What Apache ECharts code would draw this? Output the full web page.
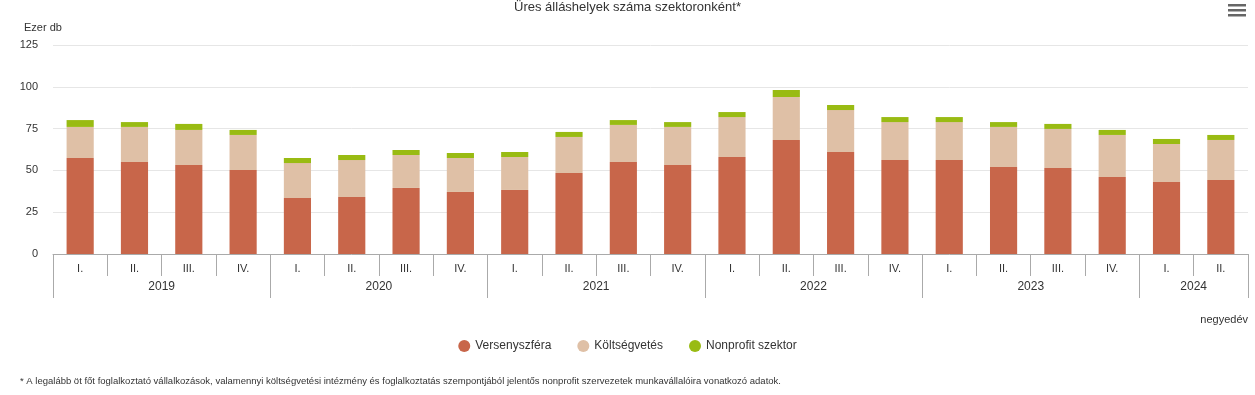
<!DOCTYPE html>
<html>
<head>
<meta charset="utf-8">
<script src="https://cdn.jsdelivr.net/npm/echarts@6/dist/echarts.min.js"></script>
<style>
html,body{margin:0;padding:0;background:#fff;}
#c{width:1255px;height:395px;}
</style>
</head>
<body>
<div id="c"></div>
<script>
const quarters = ['I.','II.','III.','IV.','I.','II.','III.','IV.','I.','II.','III.','IV.','I.','II.','III.','IV.','I.','II.','III.','IV.','I.','II.'];
const years = ['2019','2020','2021','2022','2023','2024'];
const quartersPerYear = [4,4,4,4,4,2];
const versenyszfera = [57.4, 55.0, 53.2, 50.2, 33.5, 34.1, 39.5, 37.1, 38.3, 48.4, 55.0, 53.2, 58.0, 68.2, 61.0, 56.2, 56.2, 52.0, 51.4, 46.1, 43.1, 44.3];
const koltsegvetes = [18.6, 21.0, 21.0, 21.0, 20.9, 22.1, 19.7, 20.3, 19.7, 21.6, 22.2, 22.8, 23.9, 25.7, 25.1, 22.7, 22.7, 24.0, 23.4, 25.1, 22.7, 23.9];
const nonprofit = [4.1, 2.9, 3.6, 3.0, 3.0, 3.0, 3.0, 3.0, 3.0, 3.0, 2.9, 2.9, 3.0, 4.2, 3.0, 3.0, 3.0, 2.9, 3.0, 3.0, 3.0, 3.0];
const yTicks = [0, 25, 50, 75, 100, 125];

// Build year axis (boundary points) from years / quartersPerYear
const yearPoints = new Array(quarters.length + 1).fill('');
const yearBoundaries = new Set([0]);
let acc = 0;
years.forEach((y, i) => {
  const n = quartersPerYear[i];
  const mid = acc + n / 2;
  yearPoints[Math.round(mid)] = y;
  acc += n;
  yearBoundaries.add(acc);
});

const FONT = '"Liberation Sans", Arial, sans-serif';
const AX = '#aaaaaa';
const chart = echarts.init(document.getElementById('c'), null, {renderer: 'canvas'});
chart.setOption({
  animation: false,
  textStyle: {fontFamily: FONT},
  title: [
    {text: 'Üres álláshelyek száma szektoronként*', left: 'center', top: 1, padding: 0,
     textStyle: {fontSize: 13, fontWeight: 'normal', color: '#333', fontFamily: FONT}},
    {text: 'Ezer db', left: 19, top: 17,
     textStyle: {fontSize: 11, fontWeight: 'normal', color: '#333', fontFamily: FONT}},
    {text: 'negyedév', right: 2, top: 309,
     textStyle: {fontSize: 11, fontWeight: 'normal', color: '#333', fontFamily: FONT}},
    {text: '* A legalább öt főt foglalkoztató vállalkozások, valamennyi költségvetési intézmény és foglalkoztatás szempontjából jelentős nonprofit szervezetek munkavállalóira vonatkozó adatok.',
     left: 15, top: 371,
     textStyle: {fontSize: 9.5, fontWeight: 'normal', color: '#333', fontFamily: FONT}}
  ],
  legend: {
    bottom: 38, left: 'center',
    icon: 'circle', itemWidth: 12, itemHeight: 12, itemGap: 26,
    textStyle: {fontSize: 12, color: '#333', fontFamily: FONT},
    data: ['Versenyszféra', 'Költségvetés', 'Nonprofit szektor']
  },
  grid: {left: 53, right: 7, top: 45, bottom: 141, containLabel: false},
  xAxis: [
    {
      type: 'category', data: quarters, position: 'bottom',
      axisLine: {show: true, lineStyle: {color: AX, width: 1}},
      axisTick: {show: true, interval: 0, length: 22, lineStyle: {color: AX}},
      axisLabel: {interval: 0, margin: 9, fontSize: 11, color: '#333', fontFamily: FONT}
    },
    {
      type: 'category', data: yearPoints, position: 'bottom', boundaryGap: false,
      axisLine: {show: false},
      axisTick: {show: true, length: 44, lineStyle: {color: AX},
        interval: (idx) => yearBoundaries.has(idx)},
      axisLabel: {interval: (idx, v) => v !== '', margin: 27, fontSize: 12, color: '#333', fontFamily: FONT},
      splitLine: {show: false}
    }
  ],
  yAxis: {
    type: 'value', min: yTicks[0], max: yTicks[yTicks.length - 1], interval: 25,
    axisLine: {show: false}, axisTick: {show: false},
    axisLabel: {margin: 15, fontSize: 11, color: '#333', fontFamily: FONT},
    splitLine: {lineStyle: {color: '#e6e6e6', width: 1}}
  },
  series: [
    {name: 'Versenyszféra', type: 'bar', stack: 's', data: versenyszfera, barWidth: '50%',
     itemStyle: {color: '#c8664a'}, emphasis: {disabled: true}},
    {name: 'Költségvetés', type: 'bar', stack: 's', data: koltsegvetes, barWidth: '50%',
     itemStyle: {color: '#dfc0a6'}, emphasis: {disabled: true}},
    {name: 'Nonprofit szektor', type: 'bar', stack: 's', data: nonprofit, barWidth: '50%',
     itemStyle: {color: '#99bb13'}, emphasis: {disabled: true}}
  ],
  graphic: [
    {type: 'group', left: 1228, top: 4, children: [
      {type: 'rect', shape: {x: 0, y: 0, width: 18, height: 2.5}, style: {fill: '#666'}},
      {type: 'rect', shape: {x: 0, y: 5, width: 18, height: 2.5}, style: {fill: '#666'}},
      {type: 'rect', shape: {x: 0, y: 10, width: 18, height: 2.5}, style: {fill: '#666'}}
    ]}
  ]
});
</script>
</body>
</html>
